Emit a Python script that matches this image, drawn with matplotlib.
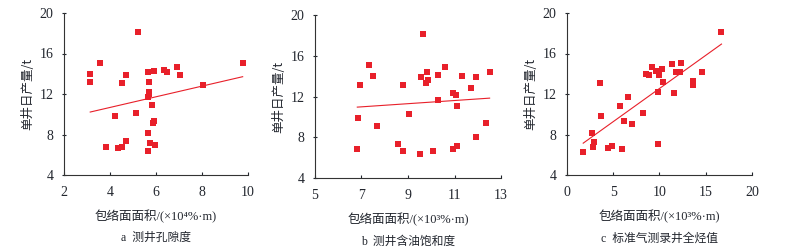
import numpy as np
import matplotlib
matplotlib.use('Agg')
import matplotlib.pyplot as plt

plt.rcParams['font.family'] = ['Liberation Serif', 'Noto Sans CJK SC']

# panel a: porosity envelope area (x10^4 %.m) vs daily production (t)
a_x = [3.14, 3.14, 3.55, 3.81, 4.23, 4.35, 4.52, 4.52, 4.68, 4.68, 5.12, 5.2,
       5.64, 5.68, 5.68, 5.7, 5.67, 5.64, 5.67, 5.72, 5.83, 5.87, 5.93, 5.93,
       5.94, 6.33, 6.46, 6.93, 7.03, 8.03, 9.77]
a_y = [14.0, 13.23, 15.05, 6.77, 9.83, 6.63, 6.73, 13.1, 13.86, 7.33, 10.17, 18.12,
       14.16, 13.23, 12.24, 11.98, 11.72, 8.12, 6.37, 7.13, 10.89, 9.1, 9.3, 14.26,
       6.93, 14.39, 14.13, 14.65, 13.86, 12.9, 15.05]

# panel b: oil saturation envelope area (x10^3 %.m)
b_x = [6.82, 6.84, 6.94, 7.32, 7.48, 7.67, 8.56, 8.78, 8.78, 9.04, 9.5, 9.57,
       9.65, 9.77, 9.8, 9.86, 10.09, 10.28, 10.29, 10.61, 10.92, 10.92, 11.05,
       11.09, 11.11, 11.32, 11.7, 11.92, 11.92, 12.35, 12.51]
b_y = [6.82, 9.87, 13.15, 15.08, 13.97, 9.08, 7.38, 13.11, 6.69, 10.26, 6.39, 13.93,
       18.13, 13.28, 14.36, 13.61, 6.62, 14.07, 11.61, 14.85, 6.82, 12.33, 12.13,
       11.02, 7.11, 14.0, 12.79, 13.9, 8.0, 9.38, 14.36]

# panel c: total hydrocarbon envelope area (x10^3 %.m)
c_x = [1.77, 2.77, 2.88, 2.99, 3.57, 3.71, 4.43, 4.9, 5.77, 5.95, 6.16, 6.56,
       7.03, 8.22, 8.61, 8.86, 9.26, 9.66, 9.87, 9.87, 9.95, 10.27, 10.38, 11.32,
       11.57, 11.75, 12.29, 12.25, 13.62, 13.66, 14.63, 16.72]
c_y = [6.27, 8.12, 6.77, 7.26, 13.04, 9.83, 6.7, 6.9, 10.83, 6.6, 9.34, 11.72,
       9.0, 10.17, 13.99, 13.83, 14.65, 14.29, 7.1, 12.24, 13.86, 14.49, 13.23, 14.98,
       12.08, 14.22, 15.05, 14.13, 13.3, 12.87, 14.16, 18.12]

xlabels = ['包络面面积/(×10⁴%·m)', '包络面面积/(×10³%·m)', '包络面面积/(×10³%·m)']
captions = ['a  测井孔隙度', 'b  测井含油饱和度', 'c  标准气测录井全烃值']
xlims = [(2, 10), (5, 13), (0, 20)]
xticks = [[2, 4, 6, 8, 10], [5, 7, 9, 11, 13], [0, 5, 10, 15, 20]]
yticks = [4, 8, 12, 16, 20]

positions = [[0.0805, 0.30, 0.2314, 0.648],
             [0.3962, 0.288, 0.234, 0.652],
             [0.713, 0.30, 0.2327, 0.648]]

red = '#e8202a'
txt = '#22262e'
fams = ['Liberation Serif', 'Noto Sans CJK SC']

fig = plt.figure(figsize=(7.95, 2.5), dpi=100)
data = [(a_x, a_y), (b_x, b_y), (c_x, c_y)]
for i, (xs, ys) in enumerate(data):
    ax = fig.add_axes(positions[i])
    ax.scatter(xs, ys, marker='s', s=18, color=red, linewidths=0, zorder=3)
    k, b = np.polyfit(xs, ys, 1)
    lx = np.array([min(xs), max(xs)])
    ax.plot(lx, k * lx + b, color=red, lw=0.8)
    ax.set_xlim(*xlims[i])
    ax.set_ylim(4, 20)
    ax.set_xticks(xticks[i])
    ax.set_yticks(yticks)
    for s in ['top', 'right']:
        ax.spines[s].set_visible(False)
    for s in ['left', 'bottom']:
        ax.spines[s].set_color('#333333')
        ax.spines[s].set_linewidth(0.8)
    ax.tick_params(axis='x', direction='in', length=2.5, width=0.8,
                   labelsize=10, colors=txt, pad=8)
    ax.tick_params(axis='y', direction='inout', length=3, width=0.8,
                   labelsize=10, colors=txt, pad=6)
    ax.set_ylabel('单井日产量/t', fontsize=9, color=txt, labelpad=4,
                  family=['Noto Sans CJK SC', 'Liberation Serif'])
    ax.set_xlabel(xlabels[i], fontsize=9, color=txt, labelpad=8, family=fams)
    ax.text(0.5, -0.39, captions[i], transform=ax.transAxes, ha='center',
            va='center', fontsize=8.5, color=txt, family=fams)

fig.savefig('out.png', dpi=100)
